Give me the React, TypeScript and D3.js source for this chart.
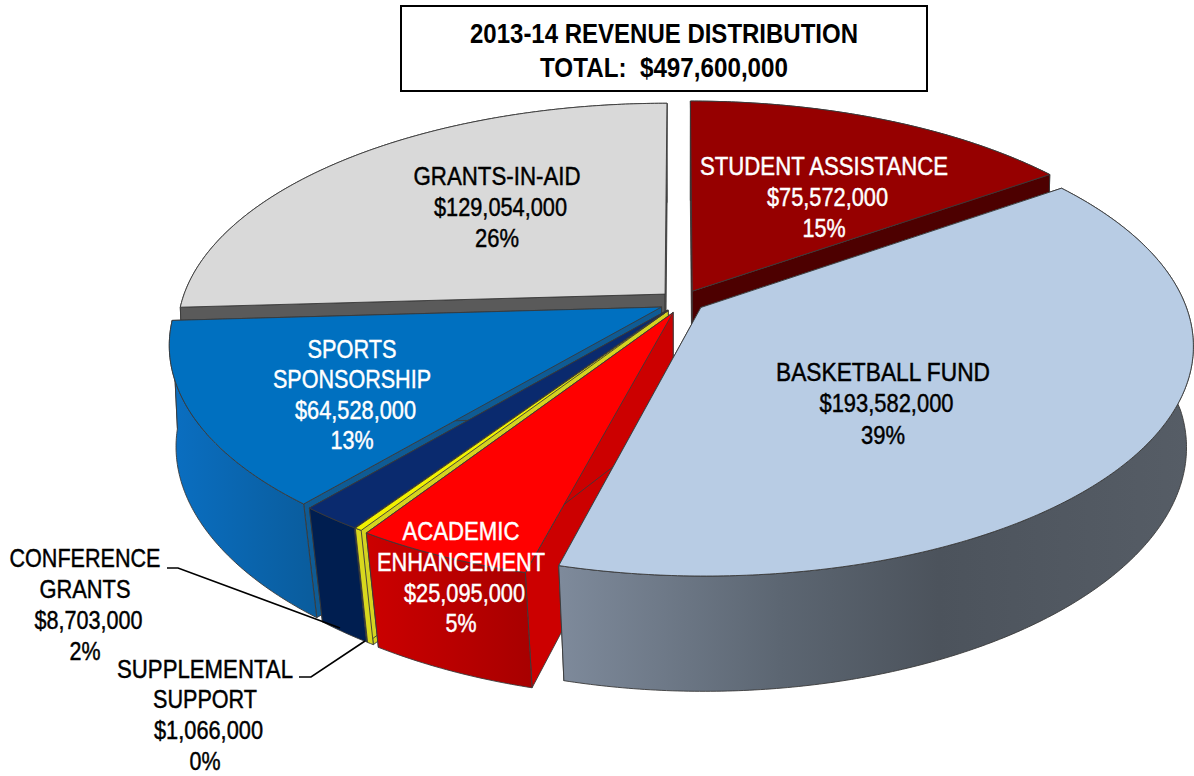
import React from "react";
import * as d3 from "d3";

// ---- data ----
const sliceNames = ["STUDENT ASSISTANCE", "BASKETBALL FUND", "ACADEMIC ENHANCEMENT", "SUPPLEMENTAL SUPPORT", "CONFERENCE GRANTS", "SPORTS SPONSORSHIP", "GRANTS-IN-AID"];
const sliceValues = [75572000, 193582000, 25095000, 1066000, 8703000, 64528000, 129054000];
const slicePercents = ["15%", "39%", "5%", "0%", "2%", "13%", "26%"];
const titleLines = ["2013-14 REVENUE DISTRIBUTION", "TOTAL:  $497,600,000"];

// ---- styling / layout ----
const explodeX = [0.0276, 0.045, -0.012, -0.022, -0.024, -0.036, -0.029];
const explodeV = [0.0533, -0.02, -0.042, -0.0335, -0.032, -0.018, 0.04];
const topFill = ["#960000", "#b8cce4", "#ff0000", "#f2f200", "#0a2a6e", "#0070c0", "#d9d9d9"];
const wallFill = ["#4d0000", "url(#gBasket)", "url(#gAcademic)", "#d8d81e", "#001e50", "url(#gSports)", "#5a5a5a"];
const faceFill = ["#4d0000", "#7d8899", "#cc0000", "#d4d420", "#001e50", "#0f5b94", "#5a5a5a"];
const paintOrder = [6, 0, 5, 4, 3, 2, 1];

const P = { cx: 679, cy: 303, a: 484, A: 224, k: 0.16, m: 0.04, q: 112 };

function project(X: number, v: number, Z: number): [number, number] {
  const w = 1 + P.k * v;
  // depth-dependent convergence of the extruded walls towards the centre line
  const mx = 0.008 + 0.03 * Math.max(0, -v);
  return [P.cx + (P.a * X) / (w + mx * Z), P.cy + (-P.A * v + P.q * Z) / (w + P.m * Z)];
}

const arcs = d3.pie<number>().sort(null).startAngle(0).endAngle(2 * Math.PI)(sliceValues);
const line = d3.line();

function sliceGeom(i: number) {
  const arc = arcs[i];
  const ox = explodeX[i];
  const ov = explodeV[i];
  const n = Math.max(2, Math.ceil((arc.endAngle - arc.startAngle) / 0.01));
  const thetas = d3.range(n + 1).map((j) => arc.startAngle + ((arc.endAngle - arc.startAngle) * j) / n);
  const rim = (Z: number) => thetas.map((t) => project(ox + Math.sin(t), ov + Math.cos(t), Z));
  const apex = (Z: number) => project(ox, ov, Z);
  const backFacing = Math.cos((arc.startAngle + arc.endAngle) / 2) > 0;
  return { rim, apex, backFacing };
}

function Slice({ i }: { i: number }) {
  const g = sliceGeom(i);
  const top = g.rim(0);
  const bottom = g.rim(1);
  const a0 = g.apex(0);
  const a1 = g.apex(1);
  const sw = 0.9;
  const st = "#3a3a3a";
  const startFace = [a0, top[0], bottom[0], a1];
  const endFace = [a0, top[top.length - 1], bottom[bottom.length - 1], a1];
  const wallPts = [...top, ...bottom.slice().reverse()];
  const topFace = [a0, ...top];
  const wall = <path d={line(wallPts) + "Z"} fill={wallFill[i]} stroke={st} strokeWidth={sw} />;
  return (
    <g>
      {g.backFacing && wall}
      <path d={line(startFace) + "Z"} fill={faceFill[i]} stroke={st} strokeWidth={sw} />
      <path d={line(endFace) + "Z"} fill={faceFill[i]} stroke={st} strokeWidth={sw} />
      {!g.backFacing && wall}
      <path d={line(topFace) + "Z"} fill={topFill[i]} stroke={st} strokeWidth={sw} />
    </g>
  );
}

type L = { t: string; x: number; y: number; w: number; fill: string };
const money = (v: number) => "$" + d3.format(",")(v);

function block(lines: string[], x: number, ys: number[], ws: number[], fill: string): L[] {
  return lines.map((t, j) => ({ t, x: t.startsWith("$") ? x + 3.5 : x, y: ys[j], w: ws[j], fill }));
}

const labels: L[] = [
  ...block([sliceNames[0], money(sliceValues[0]), slicePercents[0]], 824, [175, 206, 237], [248, 121, 43], "#fff"),
  ...block([sliceNames[1], money(sliceValues[1]), slicePercents[1]], 883, [381, 412, 444], [214, 134, 44], "#000"),
  ...block(["ACADEMIC", "ENHANCEMENT", money(sliceValues[2]), slicePercents[2]], 461, [540, 571, 602, 632], [117, 168, 121, 31], "#fff"),
  ...block(["SUPPLEMENTAL", "SUPPORT", money(sliceValues[3]), slicePercents[3]], 205, [678, 708, 739, 770], [176, 104, 109, 31], "#000"),
  ...block(["CONFERENCE", "GRANTS", money(sliceValues[4]), slicePercents[4]], 85, [567, 598, 629, 660], [151, 91, 108, 31], "#000"),
  ...block(["SPORTS", "SPONSORSHIP", money(sliceValues[5]), slicePercents[5]], 352, [358, 388, 419, 449], [89, 158, 121, 43], "#fff"),
  ...block([sliceNames[6], money(sliceValues[6]), slicePercents[6]], 497, [185, 216, 247], [167, 133, 44], "#000"),
];

export default function App() {
  return (
    <svg width={1194} height={776} style={{ position: "absolute", left: 0, top: 0, background: "#fff" }} fontFamily="'Liberation Sans', Arial, sans-serif">
      <defs>
        <linearGradient id="gBasket" gradientUnits="userSpaceOnUse" x1={560} x2={1190} y1={0} y2={0}>
          <stop offset="0" stopColor="#7e8a9b" />
          <stop offset="0.35" stopColor="#5c6672" />
          <stop offset="0.6" stopColor="#4c535c" />
          <stop offset="1" stopColor="#565d66" />
        </linearGradient>
        <linearGradient id="gAcademic" gradientUnits="userSpaceOnUse" x1={366} x2={530} y1={0} y2={0}>
          <stop offset="0" stopColor="#cc0000" />
          <stop offset="1" stopColor="#a80000" />
        </linearGradient>
        <linearGradient id="gSports" gradientUnits="userSpaceOnUse" x1={168} x2={316} y1={0} y2={0}>
          <stop offset="0" stopColor="#0a6fc2" />
          <stop offset="1" stopColor="#0a5c9c" />
        </linearGradient>
      </defs>
      {paintOrder.map((i) => (
        <Slice key={i} i={i} />
      ))}
      <rect x={401} y={6} width={526} height={85} fill="#fff" stroke="#000" strokeWidth={2} />
      <text x={664} y={43} textAnchor="middle" fontSize={27} fontWeight="bold" textLength={388} lengthAdjust="spacingAndGlyphs">{titleLines[0]}</text>
      <text x={664} y={77} textAnchor="middle" fontSize={27} fontWeight="bold" textLength={248} lengthAdjust="spacingAndGlyphs" xmlSpace="preserve">{titleLines[1]}</text>
      <polyline points="167,568 178,568 340,628" fill="none" stroke="#000" strokeWidth={1.6} />
      <polyline points="299,677 311,677 365,641" fill="none" stroke="#000" strokeWidth={1.6} />
      {labels.map((l, idx) => (
        <text key={idx} x={l.x} y={l.y} textAnchor="middle" fontSize={25.5} fill={l.fill} stroke={l.fill} strokeWidth={0.45} textLength={l.w} lengthAdjust="spacingAndGlyphs">{l.t}</text>
      ))}
    </svg>
  );
}
